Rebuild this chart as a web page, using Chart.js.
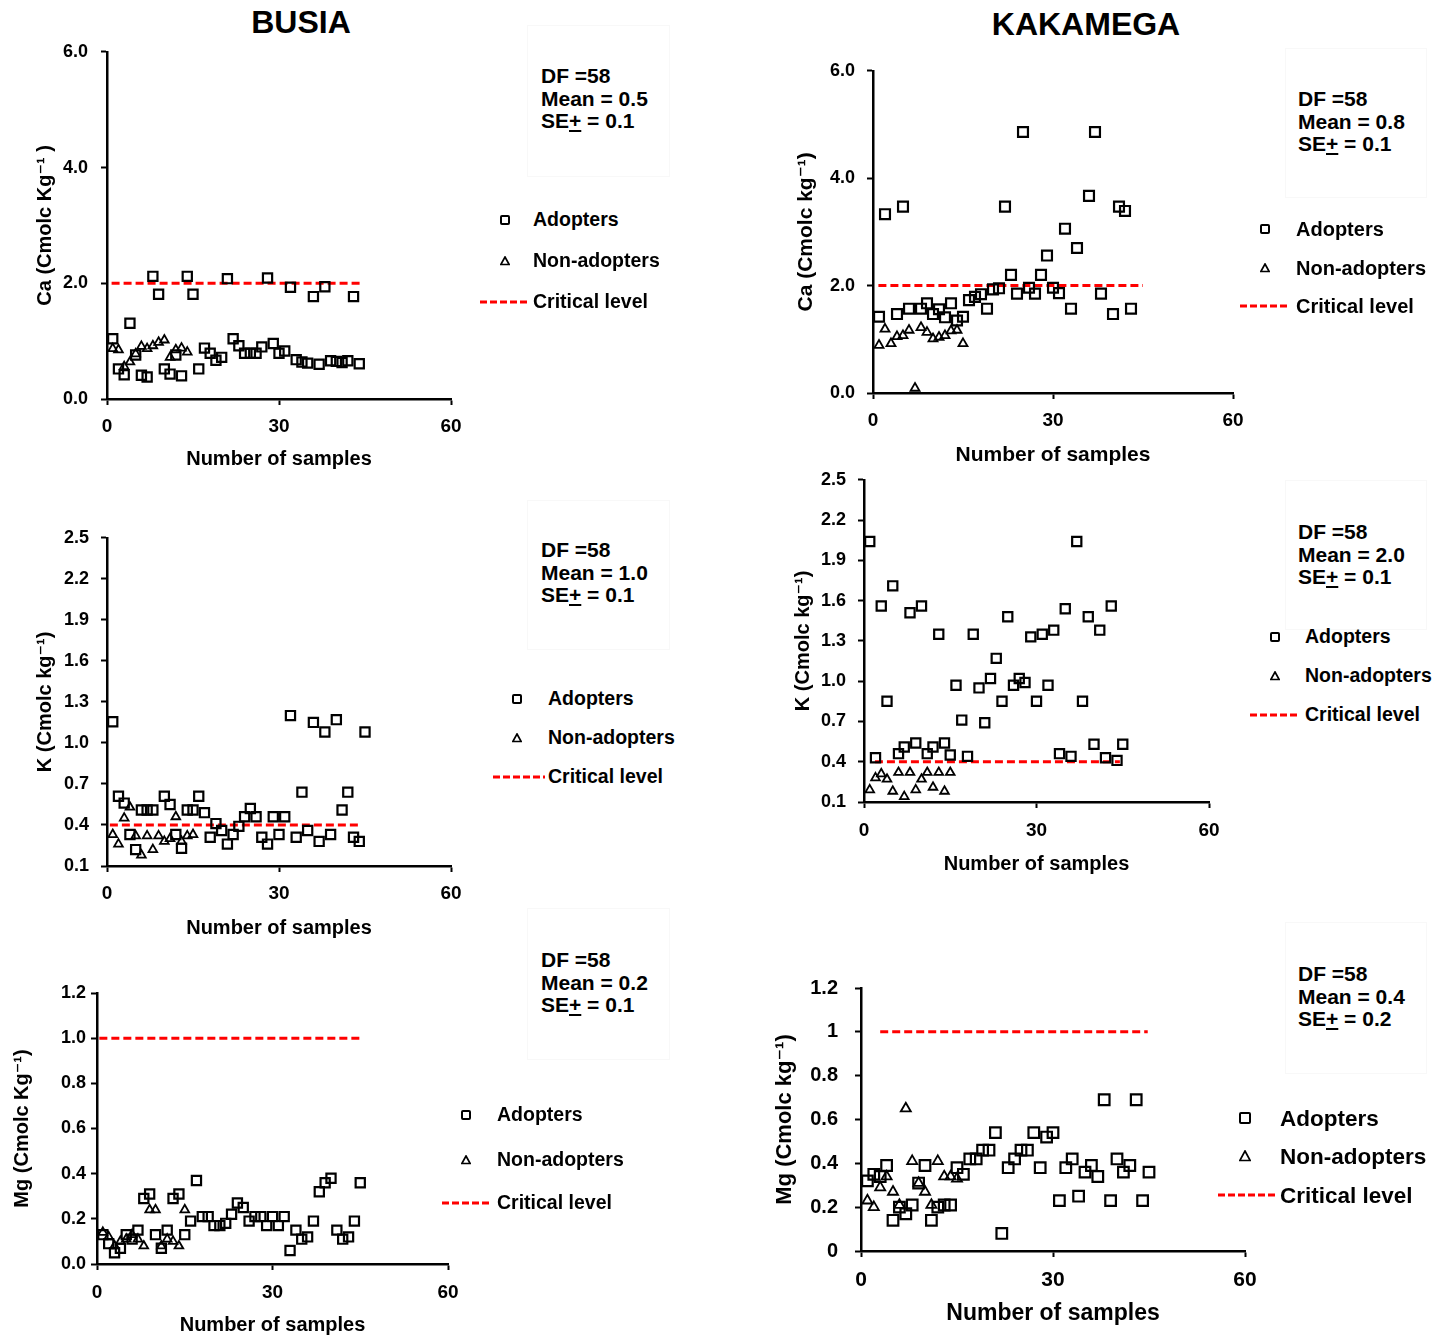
<!DOCTYPE html>
<html>
<head>
<meta charset="utf-8">
<script src="https://cdn.jsdelivr.net/npm/chart.js@4.4.1/dist/chart.umd.min.js"></script>
<style>
  body { margin:0; background:#fff; width:1446px; height:1335px; position:relative; overflow:hidden;
         font-family: Arial, "Liberation Sans", sans-serif; font-weight:bold; color:#000; }
  canvas { position:absolute; }
  .title { position:absolute; font-size:32px; line-height:32px; transform:translateX(-50%); white-space:nowrap; }
  .stats { position:absolute; font-size:21px; line-height:22.5px; white-space:nowrap; }
  .statbox { position:absolute; border:1px solid #f8f8f8; }
  .leg { position:absolute; white-space:nowrap; }
</style>
</head>
<body>
<div class="title" style="left:301px; top:6px;">BUSIA</div>
<div class="title" style="left:1086px; top:8px;">KAKAMEGA</div>
<script>
// sample number axis
const sampleTicks = [0, 30, 60];

// y ticks
const caTicks = [0, 2, 4, 6];
const caTickLabels = ["0.0", "2.0", "4.0", "6.0"];
const kTicks = [0.1, 0.4, 0.7, 1.0, 1.3, 1.6, 1.9, 2.2, 2.5];
const kTickLabels = ["0.1", "0.4", "0.7", "1.0", "1.3", "1.6", "1.9", "2.2", "2.5"];
const mgTicks = [0, 0.2, 0.4, 0.6, 0.8, 1.0, 1.2];
const mgTickLabelsBusia = ["0.0", "0.2", "0.4", "0.6", "0.8", "1.0", "1.2"];
const mgTickLabelsKakamega = ["0", "0.2", "0.4", "0.6", "0.8", "1", "1.2"];

// critical levels
const criticalCa = 2.0;
const criticalK = 0.4;
const criticalMg = 1.0;

// value per sample number (1, 2, 3 ...), null = no point
const busiaCaAdopters = [1.04, 0.52, 0.42, 1.31, 0.76, 0.41, 0.38, 2.12, 1.81, 0.52, 0.43, 0.76, 0.40, 2.12, 1.81,
  0.52, 0.88, 0.79, 0.67, 0.72, 2.08, 1.04, 0.92, 0.79, 0.79, 0.79, 0.90, 2.09, 0.96, 0.79,
  0.83, 1.93, 0.68, 0.64, 0.62, 1.77, 0.60, 1.94, 0.66, 0.65, 0.63, 0.66, 1.77, 0.61];
const busiaCaNonAdopters = [0.87, 0.85, 0.56, 0.64, 0.78, 0.91, 0.87, 0.92, 0.98, 1.02, 0.72, 0.85, 0.88, 0.81];
const busiaCaCriticalRange = [0.8, 44.4];
const busiaCaStats = ["58", "0.5", "0.1"];

const kakamegaCaAdopters = [1.42, 3.33, null, 1.47, 3.47, 1.57, null, 1.57, 1.67, 1.47, 1.56, 1.41, 1.67, 1.35, 1.42,
  1.73, 1.79, 1.84, 1.57, 1.93, 1.95, 3.47, 2.20, 1.85, 4.86, 1.96, 1.85, 2.20, 2.56, 1.96,
  1.86, 3.06, 1.57, 2.70, null, 3.67, 4.86, 1.85, null, 1.47, 3.47, 3.39, 1.57];
const kakamegaCaNonAdopters = [0.89, 1.19, 0.92, 1.05, 1.07, 1.17, 0.09, 1.22, 1.13, 1.01, 1.04, 1.07, 1.16, 1.17, 0.92];
const kakamegaCaCriticalRange = [0.9, 45];
const kakamegaCaStats = ["58", "0.8", "0.1"];

const busiaKAdopters = [1.155, 0.61, 0.56, 0.33, 0.22, 0.51, 0.51, 0.51, null, 0.61, 0.55, 0.33, 0.23, 0.51, 0.51,
  0.61, 0.49, 0.31, 0.41, 0.36, 0.26, 0.33, 0.39, 0.46, 0.52, 0.46, 0.31, 0.26, 0.46, 0.33,
  0.46, 1.20, 0.31, 0.64, 0.36, 1.15, 0.28, 1.08, 0.33, 1.17, 0.51, 0.64, 0.31, 0.28, 1.08];
const busiaKNonAdopters = [0.33, 0.26, 0.45, 0.53, 0.32, 0.18, 0.32, 0.22, 0.32, 0.28, 0.30, 0.46, 0.28, 0.32, 0.33];
const busiaKCriticalRange = [0.5, 44.4];
const busiaKStats = ["58", "1.0", "0.1"];

const kakamegaKAdopters = [2.04, 0.43, 1.56, 0.85, 1.71, 0.46, 0.51, 1.51, 0.54, 1.56, 0.46, 0.51, 1.35, 0.54, 0.45,
  0.97, 0.71, 0.44, 1.35, 0.95, 0.69, 1.02, 1.17, 0.85, 1.48, 0.97, 1.02, 0.99, 1.33, 0.85,
  1.35, 0.97, 1.38, 0.46, 1.54, 0.44, 2.04, 0.85, 1.48, 0.53, 1.38, 0.43, 1.56, 0.41, 0.53];
const kakamegaKNonAdopters = [0.19, 0.28, 0.31, 0.27, 0.18, 0.32, 0.14, 0.32, 0.19, 0.27, 0.32, 0.21, 0.32, 0.18, 0.32];
const kakamegaKCriticalRange = [1.9, 44.5];
const kakamegaKStats = ["58", "2.0", "0.1"];

const busiaMgAdopters = [0.13, 0.09, 0.05, 0.07, 0.13, 0.11, 0.15, 0.29, 0.31, 0.13, 0.07, 0.15, 0.29, 0.31, 0.13,
  0.19, 0.37, 0.21, 0.21, 0.17, 0.17, 0.18, 0.22, 0.27, 0.25, 0.19, 0.21, 0.21, 0.17, 0.21,
  0.17, 0.21, 0.06, 0.15, 0.11, 0.12, 0.19, 0.32, 0.36, 0.38, 0.15, 0.11, 0.12, 0.19, 0.36];
const busiaMgNonAdopters = [0.14, 0.12, 0.08, 0.10, 0.11, 0.13, 0.11, 0.08, 0.24, 0.24, 0.08, 0.11, 0.10, 0.08, 0.24];
const busiaMgCriticalRange = [0.4, 45];
const busiaMgStats = ["58", "0.2", "0.1"];

const kakamegaMgAdopters = [0.32, 0.35, 0.34, 0.39, 0.14, 0.20, 0.17, 0.21, 0.31, 0.39, 0.14, 0.20, 0.21, 0.21, 0.38,
  0.35, 0.42, 0.42, 0.46, 0.46, 0.54, 0.08, 0.38, 0.42, 0.46, 0.46, 0.54, 0.38, 0.52, 0.54,
  0.23, 0.38, 0.42, 0.25, 0.36, 0.39, 0.34, 0.69, 0.23, 0.42, 0.36, 0.39, 0.69, 0.23, 0.36];
const kakamegaMgNonAdopters = [0.23, 0.20, 0.29, 0.34, 0.27, 0.21, 0.65, 0.41, 0.31, 0.27, 0.21, 0.41, 0.34, 0.34, 0.33];
const kakamegaMgCriticalRange = [3, 44.8];
const kakamegaMgStats = ["58", "0.4", "0.2"];

const FONT = "Arial, 'Liberation Sans', 'DejaVu Sans', sans-serif";

// panel layout: canvas origin, plot box, label positions
const panels = [
  { adopters: busiaCaAdopters, nonAdopters: busiaCaNonAdopters, critical: criticalCa, range: busiaCaCriticalRange,
    yTicks: caTicks, yLabels: caTickLabels, yTitle: "Ca (Cmolc Kg\u207B\u00B9 )", stats: busiaCaStats,
    cl: 0, ct: 28, L: 107, T: 48, R: 451, B: 399, xh: 72, yTitleX: 45, yTickPad: 13, xTickPad: 10.6,
    yTickFont: 18, xTickFont: 19, xTitleFont: 20, yTitleFont: 20, sq: 6.5, tri: 5,
    statX: 541, statY: 76, box: [527, 25, 141, 150],
    leg: { sym: 505, text: 533, rows: [220, 261, 302], line: [480, 530], font: 19.5 } },
  { adopters: kakamegaCaAdopters, nonAdopters: kakamegaCaNonAdopters, critical: criticalCa, range: kakamegaCaCriticalRange,
    yTicks: caTicks, yLabels: caTickLabels, yTitle: "Ca (Cmolc kg\u207B\u00B9)", stats: kakamegaCaStats,
    cl: 770, ct: 48, L: 873, T: 68, R: 1233, B: 393, xh: 75, yTitleX: 806, yTickPad: 12, xTickPad: 10.6,
    yTickFont: 18, xTickFont: 19, xTitleFont: 21, yTitleFont: 21, sq: 7, tri: 5.2,
    statX: 1298, statY: 99, box: [1285, 48, 140, 148],
    leg: { sym: 1265, text: 1296, rows: [229, 268, 306], line: [1240, 1290], font: 20 } },
  { adopters: busiaKAdopters, nonAdopters: busiaKNonAdopters, critical: criticalK, range: busiaKCriticalRange,
    yTicks: kTicks, yLabels: kTickLabels, yTitle: "K (Cmolc kg\u207B\u00B9)", stats: busiaKStats,
    cl: 0, ct: 515, L: 107, T: 535, R: 451, B: 866, xh: 74, yTitleX: 45, yTickPad: 12, xTickPad: 10.6,
    yTickFont: 18, xTickFont: 19, xTitleFont: 20, yTitleFont: 20, sq: 6.5, tri: 5,
    statX: 541, statY: 550, box: [527, 500, 141, 148],
    leg: { sym: 517, text: 548, rows: [699, 738, 777], line: [493, 545], font: 19.5 } },
  { adopters: kakamegaKAdopters, nonAdopters: kakamegaKNonAdopters, critical: criticalK, range: kakamegaKCriticalRange,
    yTicks: kTicks, yLabels: kTickLabels, yTitle: "K (Cmolc kg\u207B\u00B9)", stats: kakamegaKStats,
    cl: 770, ct: 457, L: 864, T: 477, R: 1209, B: 802, xh: 74, yTitleX: 803, yTickPad: 12, xTickPad: 11.6,
    yTickFont: 18, xTickFont: 19, xTitleFont: 20, yTitleFont: 20, sq: 6.5, tri: 5,
    statX: 1298, statY: 532, box: [1285, 480, 140, 148],
    leg: { sym: 1275, text: 1305, rows: [637, 676, 715], line: [1250, 1300], font: 19.5 } },
  { adopters: busiaMgAdopters, nonAdopters: busiaMgNonAdopters, critical: criticalMg, range: busiaMgCriticalRange,
    yTicks: mgTicks, yLabels: mgTickLabelsBusia, yTitle: "Mg (Cmolc Kg\u207B\u00B9)", stats: busiaMgStats,
    cl: 0, ct: 973, L: 97, T: 993, R: 448, B: 1264, xh: 73, yTitleX: 22, yTickPad: 5, xTickPad: 11.6,
    yTickFont: 18, xTickFont: 19, xTitleFont: 20, yTitleFont: 20, sq: 6.5, tri: 5,
    statX: 541, statY: 960, box: [527, 908, 141, 150],
    leg: { sym: 466, text: 497, rows: [1115, 1160, 1203], line: [442, 492], font: 19.5 } },
  { adopters: kakamegaMgAdopters, nonAdopters: kakamegaMgNonAdopters, critical: criticalMg, range: kakamegaMgCriticalRange,
    yTicks: mgTicks, yLabels: mgTickLabelsKakamega, yTitle: "Mg (Cmolc kg\u207B\u00B9)", stats: kakamegaMgStats,
    cl: 770, ct: 959, L: 861, T: 979, R: 1245, B: 1251, xh: 76, yTitleX: 785, yTickPad: 17, xTickPad: 10.4,
    yTickFont: 20, xTickFont: 21, xTitleFont: 23, yTitleFont: 22, sq: 7.5, tri: 5.8,
    statX: 1298, statY: 974, box: [1285, 922, 140, 150],
    leg: { sym: 1245, text: 1280, rows: [1118, 1156, 1195], line: [1218, 1275], font: 22.5 } }
];

window.addEventListener("DOMContentLoaded", () => {
  panels.forEach(p => {
    drawPanel(p);
    drawStats(p);
    drawLegend(p);
  });
});

function toPoints(values) {
  return values.map((v, i) => ({ x: i + 1, y: v }));
}

function drawPanel(p) {
  const canvas = document.createElement("canvas");
  canvas.width = p.R + 30 - p.cl;
  canvas.height = p.B - p.ct + p.xh;
  canvas.style.left = p.cl + "px";
  canvas.style.top = p.ct + "px";
  document.body.appendChild(canvas);

  const yTitleLh = p.yTitleFont * 1.2;

  new Chart(canvas, {
    type: "scatter",
    data: {
      datasets: [
        {
          label: "Adopters",
          data: toPoints(p.adopters),
          pointStyle: "rect",
          pointRadius: p.sq,
          pointBorderColor: "#000",
          pointBackgroundColor: "rgba(0,0,0,0)",
          pointBorderWidth: 2.2,
          clip: false
        },
        {
          label: "Non-adopters",
          data: toPoints(p.nonAdopters),
          pointStyle: "triangle",
          pointRadius: p.tri,
          pointBorderColor: "#000",
          pointBackgroundColor: "rgba(0,0,0,0)",
          pointBorderWidth: 1.8,
          clip: false
        },
        {
          label: "Critical level",
          data: [{ x: p.range[0], y: p.critical }, { x: p.range[1], y: p.critical }],
          showLine: true,
          borderColor: "#ff0000",
          borderWidth: 3,
          borderDash: [8, 4],
          pointRadius: 0
        }
      ]
    },
    options: {
      responsive: false,
      animation: false,
      devicePixelRatio: 1,
      events: [],
      layout: { padding: { left: 0, top: p.T - p.ct, right: 30, bottom: 0 } },
      plugins: { legend: { display: false }, tooltip: { enabled: false } },
      scales: {
        x: {
          type: "linear",
          position: "bottom",
          min: 0,
          max: 60,
          afterBuildTicks: a => { a.ticks = sampleTicks.map(v => ({ value: v })); },
          afterFit: a => { a.height = p.xh; },
          grid: { drawOnChartArea: false, tickLength: 6, tickColor: "#000", tickWidth: 2 },
          border: { display: true, color: "#000", width: 2.5 },
          ticks: { color: "#000", padding: p.xTickPad, maxRotation: 0, autoSkip: false,
                   font: { family: FONT, weight: "bold", size: p.xTickFont } },
          title: { display: true, text: "Number of samples", color: "#000",
                   padding: { top: 0, bottom: 0 },
                   font: { family: FONT, weight: "bold", size: p.xTitleFont } }
        },
        y: {
          type: "linear",
          min: p.yTicks[0],
          max: p.yTicks[p.yTicks.length - 1],
          afterBuildTicks: a => { a.ticks = p.yTicks.map(v => ({ value: v })); },
          afterFit: a => { a.width = p.L - p.cl; },
          grid: { drawOnChartArea: false, tickLength: 6, tickColor: "#000", tickWidth: 2 },
          border: { display: true, color: "#000", width: 2.5 },
          ticks: { color: "#000", padding: p.yTickPad, autoSkip: false,
                   callback: (v, i) => p.yLabels[i],
                   font: { family: FONT, weight: "bold", size: p.yTickFont } },
          title: { display: true, text: p.yTitle, color: "#000",
                   padding: { top: p.yTitleX - p.cl - yTitleLh / 2, bottom: 0 },
                   font: { family: FONT, weight: "bold", size: p.yTitleFont } }
        }
      }
    }
  });
}

function drawStats(p) {
  const box = document.createElement("div");
  box.className = "statbox";
  box.style.left = p.box[0] + "px";
  box.style.top = p.box[1] + "px";
  box.style.width = p.box[2] + "px";
  box.style.height = p.box[3] + "px";
  document.body.appendChild(box);

  const el = document.createElement("div");
  el.className = "stats";
  el.style.left = p.statX + "px";
  el.style.top = (p.statY - 11) + "px";
  el.innerHTML = `DF =${p.stats[0]}<br>Mean = ${p.stats[1]}<br>SE<u>+</u> = ${p.stats[2]}`;
  document.body.appendChild(el);
}

function drawLegend(p) {
  const lg = p.leg;
  const s = lg.font >= 22 ? 12 : 10;
  const half = s / 2;
  const lh = lg.font * 1.2;
  const labels = ["Adopters", "Non-adopters", "Critical level"];

  const sq = document.createElement("div");
  sq.style.cssText = `position:absolute; left:${lg.sym - half}px; top:${lg.rows[0] - half}px; width:${s}px; height:${s}px;
    box-sizing:border-box; border:2px solid #000; border-radius:2px;`;
  document.body.appendChild(sq);

  const tri = document.createElementNS("http://www.w3.org/2000/svg", "svg");
  tri.setAttribute("width", s);
  tri.setAttribute("height", s);
  tri.style.cssText = `position:absolute; left:${lg.sym - half}px; top:${lg.rows[1] - half}px;`;
  tri.innerHTML = `<polygon points="${half},1 ${s - 0.8},${s - 1.5} 0.8,${s - 1.5}" fill="none" stroke="#000" stroke-width="1.7"/>`;
  document.body.appendChild(tri);

  const ln = document.createElementNS("http://www.w3.org/2000/svg", "svg");
  ln.setAttribute("width", lg.line[1] - lg.line[0]);
  ln.setAttribute("height", 6);
  ln.style.cssText = `position:absolute; left:${lg.line[0]}px; top:${lg.rows[2] - 3}px;`;
  ln.innerHTML = `<line x1="0" y1="3" x2="${lg.line[1] - lg.line[0]}" y2="3" stroke="#ff0000" stroke-width="3" stroke-dasharray="7,3"/>`;
  document.body.appendChild(ln);

  labels.forEach((t, i) => {
    const d = document.createElement("div");
    d.className = "leg";
    d.style.fontSize = lg.font + "px";
    d.style.lineHeight = lh + "px";
    d.style.left = lg.text + "px";
    d.style.top = (lg.rows[i] - lh / 2) + "px";
    d.textContent = t;
    document.body.appendChild(d);
  });
}
</script>
</body>
</html>
